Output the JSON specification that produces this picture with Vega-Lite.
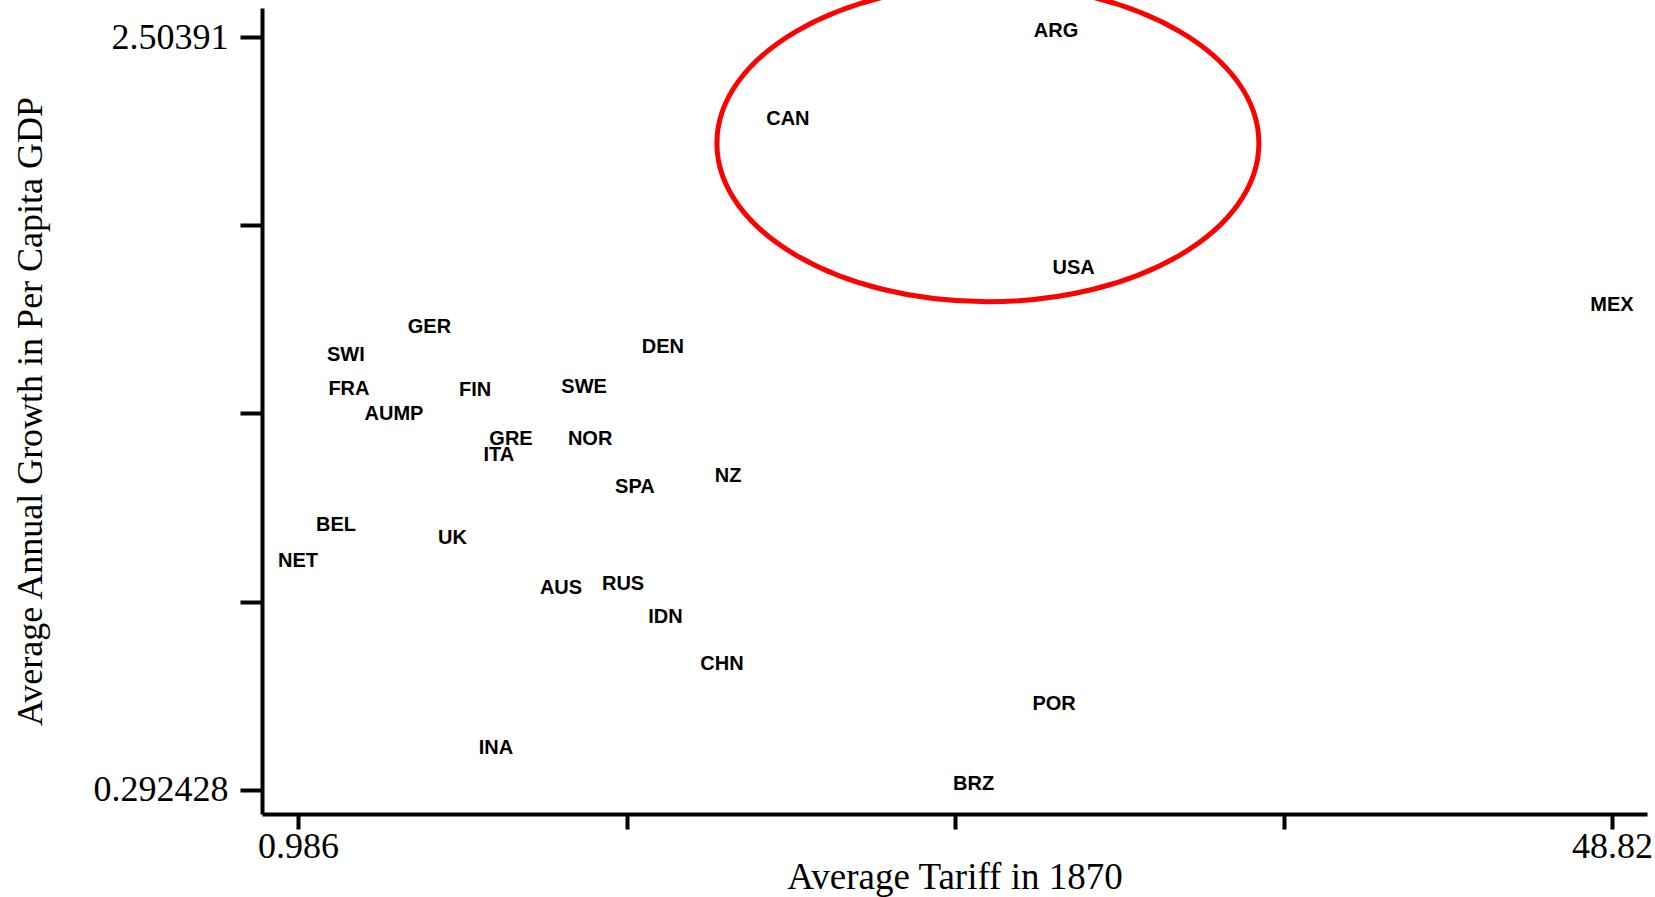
{
  "$schema": "https://vega.github.io/schema/vega-lite/v6.json",
  "autosize": "none",
  "width": 1385,
  "height": 806,
  "padding": {"left": 262, "top": 8, "right": 8, "bottom": 83},
  "background": "white",
  "config": {"view": {"stroke": null}},
  "datasets": {
    "countries": [
      {"code": "ARG", "tariff": 28.58, "growth": 2.50391},
      {"code": "CAN", "tariff": 18.82, "growth": 2.2469},
      {"code": "USA", "tariff": 29.22, "growth": 1.8093},
      {"code": "MEX", "tariff": 48.82, "growth": 1.7006},
      {"code": "GER", "tariff": 5.77, "growth": 1.636},
      {"code": "SWI", "tariff": 2.73, "growth": 1.5538},
      {"code": "DEN", "tariff": 14.27, "growth": 1.5773},
      {"code": "FRA", "tariff": 2.84, "growth": 1.4539},
      {"code": "FIN", "tariff": 7.43, "growth": 1.451},
      {"code": "SWE", "tariff": 11.4, "growth": 1.4598},
      {"code": "AUMP", "tariff": 4.48, "growth": 1.3805},
      {"code": "GRE", "tariff": 8.74, "growth": 1.3071},
      {"code": "ITA", "tariff": 8.3, "growth": 1.2572},
      {"code": "NOR", "tariff": 11.62, "growth": 1.3071},
      {"code": "NZ", "tariff": 16.64, "growth": 1.1984},
      {"code": "SPA", "tariff": 13.25, "growth": 1.1632},
      {"code": "BEL", "tariff": 2.37, "growth": 1.0516},
      {"code": "UK", "tariff": 6.61, "growth": 1.0163},
      {"code": "NET", "tariff": 0.986, "growth": 0.9488},
      {"code": "AUS", "tariff": 10.56, "growth": 0.8666},
      {"code": "RUS", "tariff": 12.82, "growth": 0.8812},
      {"code": "IDN", "tariff": 14.36, "growth": 0.7814},
      {"code": "CHN", "tariff": 16.42, "growth": 0.6434},
      {"code": "POR", "tariff": 28.51, "growth": 0.5259},
      {"code": "INA", "tariff": 8.19, "growth": 0.3967},
      {"code": "BRZ", "tariff": 25.58, "growth": 0.292428}
    ],
    "highlight": [
      {"tariff": 26.1, "growth": 2.1917}
    ]
  },
  "layer": [
    {
      "data": {"name": "countries"},
      "mark": {"type": "text", "font": "Liberation Sans", "fontWeight": "bold", "fontSize": 20, "align": "center", "baseline": "alphabetic", "color": "black"},
      "encoding": {
        "x": {
          "field": "tariff", "type": "quantitative",
          "scale": {"domain": [-0.3246, 50.094], "nice": false, "zero": false},
          "axis": {
            "title": "Average Tariff in 1870",
            "values": [0.986, 12.9445, 24.903, 36.8615, 48.82],
            "labelExpr": "datum.value < 1 ? '0.986' : (datum.value > 48 ? '48.82' : '')",
            "grid": false,
            "domainColor": "black", "domainWidth": 4,
            "tickColor": "black", "tickWidth": 4, "tickSize": 15,
            "labelPadding": 0, "labelFont": "Liberation Serif", "labelFontSize": 36, "labelColor": "black",
            "labelBaseline": "top", "labelFlush": false, "labelOverlap": false,
            "titleFont": "Liberation Serif", "titleFontSize": 37, "titleFontWeight": "normal", "titleColor": "black",
            "titlePadding": -5
          }
        },
        "y": {
          "field": "growth", "type": "quantitative",
          "scale": {"domain": [0.2219, 2.5891], "nice": false, "zero": false},
          "axis": {
            "title": "Average Annual Growth in Per Capita GDP",
            "values": [0.292428, 0.845298, 1.398169, 1.951039, 2.50391],
            "labelExpr": "datum.value > 2.5 ? '2.50391' : (datum.value < 0.3 ? '0.292428' : '')",
            "grid": false,
            "domainColor": "black", "domainWidth": 4,
            "tickColor": "black", "tickWidth": 4, "tickSize": 22,
            "labelPadding": 12, "labelFont": "Liberation Serif", "labelFontSize": 36, "labelColor": "black",
            "labelBaseline": "middle", "labelFlush": false, "labelOverlap": false,
            "titleFont": "Liberation Serif", "titleFontSize": 36, "titleFontWeight": "normal", "titleColor": "black",
            "titlePadding": 44
          }
        },
        "text": {"field": "code"}
      }
    },
    {
      "data": {"name": "highlight"},
      "mark": {
        "type": "point",
        "shape": "M-1,0 C-1,-0.3228 -0.5523,-0.5845 0,-0.5845 C0.5523,-0.5845 1,-0.3228 1,0 C1,0.3228 0.5523,0.5845 0,0.5845 C-0.5523,0.5845 -1,0.3228 -1,0 Z",
        "size": 293764,
        "filled": false,
        "stroke": "#ff0000",
        "strokeWidth": 5,
        "opacity": 1
      },
      "encoding": {
        "x": {"field": "tariff", "type": "quantitative", "scale": {"domain": [-0.3246, 50.094], "nice": false, "zero": false}},
        "y": {"field": "growth", "type": "quantitative", "scale": {"domain": [0.2219, 2.5891], "nice": false, "zero": false}}
      }
    }
  ]
}
